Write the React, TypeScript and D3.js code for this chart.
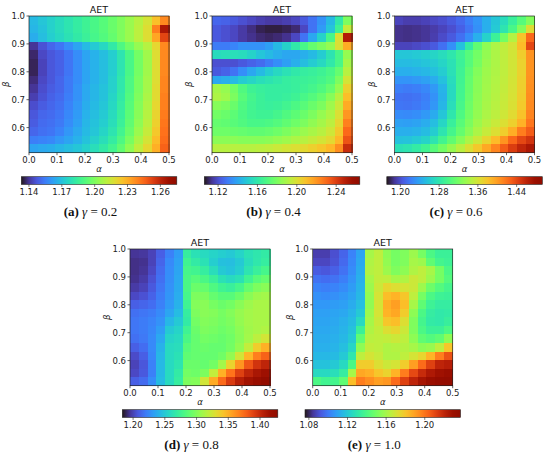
import * as React from "react";
import * as d3 from "d3";

// α and β ranges of every heatmap
const alphaDomain: [number, number] = [0, 0.5];
const betaDomain: [number, number] = [0.51, 1.0];
const alphaTicks = [0, 0.1, 0.2, 0.3, 0.4, 0.5];
const betaTicks = [0.6, 0.7, 0.8, 0.9, 1.0];

const letters = ["a", "b", "c", "d", "e"];
const gammas = ["0.2", "0.4", "0.6", "0.8", "1.0"];

// AET grids (16 x 16): rows from β = 1.0 (top) down to β = 0.51, columns α = 0 → 0.5
const aetA = [
  [1.168, 1.171, 1.174, 1.177, 1.180, 1.183, 1.186, 1.189, 1.192, 1.196, 1.200, 1.205, 1.210, 1.216, 1.226, 1.238],
  [1.167, 1.170, 1.174, 1.177, 1.180, 1.183, 1.186, 1.189, 1.192, 1.196, 1.200, 1.205, 1.211, 1.218, 1.240, 1.264],
  [1.165, 1.169, 1.173, 1.176, 1.179, 1.182, 1.185, 1.188, 1.191, 1.195, 1.200, 1.205, 1.211, 1.218, 1.232, 1.252],
  [1.140, 1.146, 1.150, 1.153, 1.158, 1.163, 1.168, 1.172, 1.176, 1.182, 1.190, 1.197, 1.204, 1.210, 1.220, 1.238],
  [1.137, 1.144, 1.147, 1.149, 1.153, 1.158, 1.163, 1.166, 1.169, 1.173, 1.180, 1.189, 1.198, 1.206, 1.218, 1.238],
  [1.136, 1.143, 1.147, 1.149, 1.153, 1.158, 1.163, 1.166, 1.169, 1.173, 1.180, 1.189, 1.198, 1.206, 1.218, 1.238],
  [1.136, 1.143, 1.147, 1.149, 1.153, 1.158, 1.163, 1.166, 1.169, 1.173, 1.180, 1.189, 1.198, 1.206, 1.218, 1.238],
  [1.138, 1.144, 1.147, 1.150, 1.154, 1.158, 1.163, 1.166, 1.169, 1.174, 1.181, 1.190, 1.199, 1.207, 1.218, 1.239],
  [1.140, 1.145, 1.148, 1.150, 1.154, 1.159, 1.164, 1.167, 1.170, 1.174, 1.181, 1.190, 1.199, 1.207, 1.219, 1.239],
  [1.142, 1.146, 1.149, 1.151, 1.155, 1.159, 1.164, 1.167, 1.170, 1.175, 1.182, 1.191, 1.200, 1.208, 1.219, 1.240],
  [1.145, 1.148, 1.150, 1.152, 1.156, 1.160, 1.165, 1.168, 1.171, 1.176, 1.183, 1.192, 1.201, 1.209, 1.220, 1.240],
  [1.147, 1.150, 1.151, 1.153, 1.157, 1.161, 1.166, 1.169, 1.172, 1.177, 1.184, 1.193, 1.202, 1.210, 1.221, 1.241],
  [1.148, 1.151, 1.152, 1.154, 1.158, 1.162, 1.167, 1.170, 1.173, 1.178, 1.185, 1.194, 1.203, 1.211, 1.222, 1.242],
  [1.150, 1.152, 1.153, 1.156, 1.160, 1.164, 1.168, 1.171, 1.175, 1.180, 1.187, 1.196, 1.205, 1.213, 1.224, 1.243],
  [1.155, 1.156, 1.157, 1.160, 1.163, 1.166, 1.170, 1.174, 1.178, 1.183, 1.190, 1.199, 1.208, 1.216, 1.227, 1.244],
  [1.163, 1.164, 1.165, 1.167, 1.169, 1.171, 1.174, 1.178, 1.182, 1.187, 1.194, 1.203, 1.212, 1.220, 1.230, 1.246],
];

const aetB = [
  [1.125, 1.124, 1.122, 1.120, 1.118, 1.116, 1.115, 1.115, 1.116, 1.118, 1.122, 1.128, 1.135, 1.145, 1.160, 1.180],
  [1.122, 1.120, 1.118, 1.115, 1.112, 1.109, 1.108, 1.108, 1.109, 1.111, 1.118, 1.128, 1.137, 1.148, 1.165, 1.195],
  [1.122, 1.120, 1.118, 1.115, 1.113, 1.111, 1.110, 1.111, 1.113, 1.118, 1.128, 1.140, 1.152, 1.168, 1.200, 1.250],
  [1.130, 1.130, 1.132, 1.135, 1.135, 1.135, 1.138, 1.145, 1.152, 1.160, 1.168, 1.175, 1.180, 1.185, 1.200, 1.215],
  [1.155, 1.156, 1.156, 1.155, 1.152, 1.148, 1.145, 1.142, 1.140, 1.140, 1.142, 1.145, 1.150, 1.158, 1.168, 1.185],
  [1.120, 1.120, 1.120, 1.122, 1.124, 1.126, 1.130, 1.134, 1.138, 1.142, 1.146, 1.150, 1.154, 1.160, 1.168, 1.188],
  [1.122, 1.124, 1.128, 1.134, 1.140, 1.145, 1.150, 1.154, 1.157, 1.160, 1.162, 1.163, 1.165, 1.168, 1.175, 1.192],
  [1.140, 1.142, 1.145, 1.150, 1.153, 1.156, 1.158, 1.160, 1.162, 1.163, 1.164, 1.165, 1.167, 1.170, 1.180, 1.198],
  [1.188, 1.185, 1.178, 1.170, 1.165, 1.163, 1.162, 1.162, 1.162, 1.163, 1.165, 1.167, 1.170, 1.175, 1.185, 1.205],
  [1.190, 1.187, 1.180, 1.172, 1.167, 1.164, 1.162, 1.162, 1.163, 1.165, 1.168, 1.171, 1.175, 1.182, 1.192, 1.210],
  [1.182, 1.180, 1.176, 1.170, 1.166, 1.164, 1.163, 1.164, 1.166, 1.169, 1.172, 1.176, 1.180, 1.187, 1.196, 1.215],
  [1.178, 1.176, 1.173, 1.169, 1.166, 1.165, 1.165, 1.167, 1.170, 1.173, 1.176, 1.180, 1.185, 1.190, 1.200, 1.220],
  [1.175, 1.174, 1.172, 1.170, 1.168, 1.168, 1.169, 1.171, 1.174, 1.177, 1.180, 1.184, 1.188, 1.193, 1.203, 1.225],
  [1.177, 1.177, 1.176, 1.175, 1.174, 1.174, 1.175, 1.177, 1.180, 1.183, 1.186, 1.189, 1.192, 1.197, 1.207, 1.230],
  [1.183, 1.183, 1.183, 1.182, 1.182, 1.182, 1.183, 1.185, 1.187, 1.190, 1.192, 1.195, 1.198, 1.202, 1.212, 1.235],
  [1.192, 1.192, 1.192, 1.192, 1.192, 1.193, 1.194, 1.196, 1.198, 1.200, 1.202, 1.205, 1.208, 1.212, 1.222, 1.245],
];

const aetC = [
  [1.195, 1.192, 1.192, 1.194, 1.197, 1.200, 1.205, 1.212, 1.222, 1.232, 1.245, 1.258, 1.272, 1.288, 1.305, 1.325],
  [1.186, 1.185, 1.186, 1.188, 1.191, 1.195, 1.200, 1.208, 1.218, 1.230, 1.245, 1.260, 1.278, 1.298, 1.325, 1.365],
  [1.186, 1.185, 1.186, 1.188, 1.192, 1.198, 1.205, 1.215, 1.228, 1.245, 1.265, 1.290, 1.318, 1.345, 1.380, 1.425],
  [1.195, 1.195, 1.197, 1.200, 1.205, 1.215, 1.230, 1.255, 1.285, 1.310, 1.330, 1.342, 1.350, 1.360, 1.385, 1.440],
  [1.258, 1.258, 1.260, 1.263, 1.267, 1.272, 1.280, 1.292, 1.305, 1.318, 1.332, 1.342, 1.350, 1.358, 1.375, 1.405],
  [1.252, 1.252, 1.254, 1.257, 1.261, 1.267, 1.276, 1.290, 1.305, 1.320, 1.334, 1.342, 1.350, 1.358, 1.372, 1.405],
  [1.245, 1.245, 1.247, 1.250, 1.255, 1.262, 1.275, 1.292, 1.310, 1.325, 1.336, 1.343, 1.350, 1.358, 1.372, 1.405],
  [1.232, 1.232, 1.234, 1.238, 1.244, 1.255, 1.272, 1.293, 1.312, 1.327, 1.337, 1.344, 1.351, 1.359, 1.373, 1.406],
  [1.222, 1.220, 1.222, 1.226, 1.234, 1.248, 1.270, 1.294, 1.313, 1.328, 1.338, 1.345, 1.352, 1.360, 1.374, 1.407],
  [1.216, 1.215, 1.217, 1.222, 1.231, 1.246, 1.270, 1.295, 1.314, 1.329, 1.339, 1.346, 1.353, 1.361, 1.375, 1.408],
  [1.218, 1.217, 1.219, 1.224, 1.233, 1.249, 1.273, 1.297, 1.316, 1.330, 1.340, 1.347, 1.354, 1.362, 1.377, 1.409],
  [1.228, 1.227, 1.229, 1.234, 1.243, 1.258, 1.280, 1.301, 1.318, 1.332, 1.342, 1.349, 1.357, 1.366, 1.381, 1.412],
  [1.238, 1.237, 1.239, 1.244, 1.253, 1.268, 1.288, 1.306, 1.322, 1.336, 1.346, 1.354, 1.363, 1.373, 1.390, 1.418],
  [1.245, 1.245, 1.247, 1.252, 1.262, 1.278, 1.296, 1.312, 1.328, 1.342, 1.353, 1.363, 1.375, 1.392, 1.415, 1.430],
  [1.255, 1.256, 1.260, 1.266, 1.278, 1.294, 1.310, 1.326, 1.342, 1.356, 1.370, 1.385, 1.405, 1.425, 1.440, 1.450],
  [1.275, 1.278, 1.284, 1.293, 1.305, 1.318, 1.333, 1.348, 1.363, 1.378, 1.395, 1.412, 1.430, 1.445, 1.458, 1.468],
];

const aetD = [
  [1.195, 1.196, 1.200, 1.210, 1.222, 1.232, 1.270, 1.262, 1.258, 1.255, 1.252, 1.250, 1.255, 1.262, 1.265, 1.268],
  [1.193, 1.194, 1.200, 1.212, 1.225, 1.234, 1.275, 1.268, 1.262, 1.252, 1.246, 1.245, 1.250, 1.260, 1.266, 1.270],
  [1.193, 1.195, 1.202, 1.214, 1.226, 1.235, 1.278, 1.276, 1.270, 1.260, 1.250, 1.247, 1.252, 1.264, 1.272, 1.278],
  [1.194, 1.197, 1.205, 1.216, 1.227, 1.236, 1.280, 1.285, 1.280, 1.272, 1.262, 1.258, 1.262, 1.275, 1.285, 1.290],
  [1.197, 1.200, 1.208, 1.218, 1.228, 1.237, 1.280, 1.292, 1.290, 1.282, 1.275, 1.272, 1.278, 1.290, 1.298, 1.302],
  [1.202, 1.205, 1.211, 1.220, 1.229, 1.238, 1.278, 1.298, 1.298, 1.290, 1.285, 1.285, 1.292, 1.302, 1.308, 1.310],
  [1.210, 1.212, 1.215, 1.222, 1.231, 1.240, 1.275, 1.300, 1.302, 1.296, 1.292, 1.295, 1.302, 1.308, 1.312, 1.312],
  [1.216, 1.218, 1.220, 1.225, 1.235, 1.244, 1.270, 1.298, 1.302, 1.300, 1.296, 1.300, 1.306, 1.310, 1.312, 1.312],
  [1.218, 1.220, 1.223, 1.228, 1.242, 1.250, 1.268, 1.295, 1.300, 1.298, 1.295, 1.298, 1.305, 1.310, 1.312, 1.312],
  [1.218, 1.220, 1.224, 1.232, 1.250, 1.255, 1.275, 1.292, 1.298, 1.296, 1.293, 1.296, 1.303, 1.309, 1.312, 1.314],
  [1.216, 1.219, 1.225, 1.236, 1.255, 1.258, 1.280, 1.290, 1.295, 1.293, 1.291, 1.294, 1.302, 1.310, 1.318, 1.325],
  [1.210, 1.215, 1.225, 1.240, 1.258, 1.260, 1.285, 1.290, 1.292, 1.290, 1.290, 1.295, 1.305, 1.320, 1.338, 1.350],
  [1.203, 1.210, 1.224, 1.242, 1.258, 1.262, 1.288, 1.290, 1.290, 1.290, 1.294, 1.305, 1.325, 1.348, 1.368, 1.378],
  [1.200, 1.207, 1.222, 1.243, 1.258, 1.264, 1.292, 1.292, 1.290, 1.295, 1.310, 1.335, 1.360, 1.382, 1.395, 1.402],
  [1.202, 1.208, 1.222, 1.243, 1.258, 1.268, 1.295, 1.293, 1.298, 1.320, 1.350, 1.372, 1.390, 1.402, 1.410, 1.415],
  [1.210, 1.214, 1.226, 1.244, 1.258, 1.270, 1.298, 1.300, 1.325, 1.352, 1.375, 1.392, 1.405, 1.413, 1.418, 1.422],
];

const aetE = [
  [1.086, 1.086, 1.090, 1.095, 1.102, 1.110, 1.160, 1.165, 1.155, 1.150, 1.152, 1.158, 1.150, 1.140, 1.135, 1.135],
  [1.088, 1.088, 1.091, 1.096, 1.103, 1.111, 1.162, 1.165, 1.156, 1.150, 1.152, 1.160, 1.158, 1.145, 1.138, 1.136],
  [1.093, 1.092, 1.094, 1.098, 1.104, 1.112, 1.163, 1.165, 1.158, 1.152, 1.155, 1.162, 1.165, 1.160, 1.150, 1.140],
  [1.098, 1.097, 1.098, 1.101, 1.106, 1.113, 1.160, 1.166, 1.165, 1.160, 1.162, 1.168, 1.165, 1.158, 1.150, 1.142],
  [1.102, 1.101, 1.102, 1.104, 1.108, 1.114, 1.158, 1.168, 1.175, 1.172, 1.170, 1.168, 1.158, 1.148, 1.142, 1.138],
  [1.105, 1.104, 1.105, 1.107, 1.110, 1.115, 1.156, 1.170, 1.182, 1.185, 1.180, 1.165, 1.150, 1.140, 1.136, 1.135],
  [1.107, 1.107, 1.108, 1.109, 1.112, 1.117, 1.156, 1.170, 1.186, 1.190, 1.182, 1.160, 1.145, 1.136, 1.133, 1.133],
  [1.109, 1.109, 1.110, 1.111, 1.114, 1.120, 1.158, 1.170, 1.185, 1.188, 1.178, 1.155, 1.140, 1.133, 1.131, 1.132],
  [1.110, 1.110, 1.111, 1.113, 1.116, 1.125, 1.160, 1.168, 1.180, 1.182, 1.172, 1.152, 1.138, 1.132, 1.131, 1.134],
  [1.111, 1.111, 1.112, 1.114, 1.118, 1.135, 1.162, 1.166, 1.172, 1.175, 1.168, 1.152, 1.140, 1.135, 1.135, 1.140],
  [1.112, 1.112, 1.113, 1.115, 1.120, 1.145, 1.164, 1.165, 1.166, 1.168, 1.165, 1.155, 1.145, 1.142, 1.145, 1.155],
  [1.113, 1.113, 1.114, 1.117, 1.124, 1.155, 1.166, 1.165, 1.162, 1.163, 1.163, 1.160, 1.155, 1.157, 1.165, 1.180],
  [1.115, 1.115, 1.116, 1.120, 1.130, 1.165, 1.170, 1.167, 1.162, 1.162, 1.165, 1.170, 1.175, 1.185, 1.198, 1.208],
  [1.118, 1.118, 1.120, 1.125, 1.140, 1.178, 1.178, 1.172, 1.168, 1.170, 1.178, 1.190, 1.202, 1.212, 1.220, 1.222],
  [1.125, 1.125, 1.127, 1.133, 1.160, 1.188, 1.186, 1.180, 1.176, 1.185, 1.198, 1.210, 1.218, 1.224, 1.228, 1.230],
  [1.140, 1.137, 1.138, 1.145, 1.182, 1.198, 1.194, 1.190, 1.192, 1.202, 1.212, 1.220, 1.226, 1.230, 1.232, 1.233],
];

const grids = [aetA, aetB, aetC, aetD, aetE];

// colour limits and colourbar ticks per panel
const colorLimits: [number, number][] = [
  [1.133, 1.275],
  [1.106, 1.264],
  [1.172, 1.493],
  [1.183, 1.428],
  [1.076, 1.237],
];
const cbarTicks = [
  [1.14, 1.17, 1.2, 1.23, 1.26],
  [1.12, 1.16, 1.2, 1.24],
  [1.2, 1.28, 1.36, 1.44],
  [1.2, 1.25, 1.3, 1.35, 1.4],
  [1.08, 1.12, 1.16, 1.2],
];

// top-left corner of each heatmap
const origins: [number, number][] = [
  [29, 16],
  [212, 16],
  [394.5, 16],
  [130, 249],
  [312.7, 249],
];

const W = 140;
const H = 136.7;
const font = "DejaVu Sans, sans-serif";
const stops = d3.range(0, 1.0001, 0.05);

const Panel: React.FC<{ idx: number }> = ({ idx }) => {
  const [x0, y0] = origins[idx];
  const grid = grids[idx];
  const nRows = grid.length;
  const nCols = grid[0].length;

  const x = d3.scaleLinear().domain(alphaDomain).range([x0, x0 + W]);
  const y = d3.scaleLinear().domain(betaDomain).range([y0 + H, y0]);
  const color = d3.scaleSequential(d3.interpolateTurbo).domain(colorLimits[idx]);

  const aStep = (alphaDomain[1] - alphaDomain[0]) / nCols;
  const bStep = (betaDomain[1] - betaDomain[0]) / nRows;

  const cbX = x0 - 7.7;
  const cbY = y0 + 160.7;
  const cbW = 155.5;
  const cbH = 7.7;
  const cb = d3.scaleLinear().domain(colorLimits[idx]).range([cbX, cbX + cbW]);
  const gradId = `turbo-${idx}`;

  const cx = x0 + W / 2;

  return (
    <g>
      <defs>
        <linearGradient id={gradId} x1="0" x2="1" y1="0" y2="0">
          {stops.map((s) => (
            <stop key={s} offset={s} stopColor={d3.interpolateTurbo(s)} />
          ))}
        </linearGradient>
      </defs>

      {/* heatmap cells */}
      <g shapeRendering="crispEdges">
        {grid.map((row, r) =>
          row.map((v, c) => {
            const a0 = alphaDomain[0] + c * aStep;
            const b1 = betaDomain[1] - r * bStep;
            return (
              <rect
                key={`${r}-${c}`}
                x={x(a0)}
                y={y(b1)}
                width={x(a0 + aStep) - x(a0) + 0.5}
                height={y(b1 - bStep) - y(b1) + 0.5}
                fill={color(v)}
              />
            );
          })
        )}
      </g>
      <rect x={x0} y={y0} width={W} height={H} fill="none" stroke="#222" strokeWidth={0.7} />

      <text x={cx} y={y0 - 3} textAnchor="middle" fontFamily={font} fontSize={9.5} fill="#111">
        AET
      </text>

      {/* α axis */}
      {alphaTicks.map((t) => (
        <g key={t}>
          <line x1={x(t)} x2={x(t)} y1={y0 + H} y2={y0 + H + 2.5} stroke="#222" strokeWidth={0.7} />
          <text x={x(t)} y={y0 + H + 10.5} textAnchor="middle" fontFamily={font} fontSize={8.5} fill="#222">
            {t.toFixed(1)}
          </text>
        </g>
      ))}
      <text x={cx} y={y0 + H + 19.5} textAnchor="middle" fontFamily={font} fontSize={8.5} fontStyle="italic" fill="#222">
        α
      </text>

      {/* β axis */}
      {betaTicks.map((t) => (
        <g key={t}>
          <line x1={x0 - 2.5} x2={x0} y1={y(t)} y2={y(t)} stroke="#222" strokeWidth={0.7} />
          <text x={x0 - 4} y={y(t) + 3} textAnchor="end" fontFamily={font} fontSize={8.5} fill="#222">
            {t.toFixed(1)}
          </text>
        </g>
      ))}
      <text
        transform={`translate(${x0 - 20},${y0 + H / 2}) rotate(-90)`}
        textAnchor="middle"
        fontFamily={font}
        fontSize={8.5}
        fontStyle="italic"
        fill="#222"
      >
        β
      </text>

      {/* colour bar */}
      <rect x={cbX} y={cbY} width={cbW} height={cbH} fill={`url(#${gradId})`} stroke="#222" strokeWidth={0.6} />
      {cbarTicks[idx].map((t) => (
        <g key={t}>
          <line x1={cb(t)} x2={cb(t)} y1={cbY + cbH} y2={cbY + cbH + 2.5} stroke="#222" strokeWidth={0.6} />
          <text x={cb(t)} y={cbY + cbH + 10.5} textAnchor="middle" fontFamily={font} fontSize={8.5} fill="#222">
            {t.toFixed(2)}
          </text>
        </g>
      ))}

      {/* caption */}
      <text x={cx - 8.5} y={y0 + 199.5} textAnchor="middle" fontFamily="Liberation Serif, serif" fontSize={13} fill="#111">
        <tspan fontWeight="bold">({letters[idx]})</tspan>
        <tspan> </tspan>
        <tspan fontStyle="italic">γ</tspan>
        <tspan> = {gammas[idx]}</tspan>
      </text>
    </g>
  );
};

export default function App() {
  return (
    <svg
      width={550}
      height={457}
      style={{ position: "absolute", left: 0, top: 0, background: "#fff" }}
    >
      {letters.map((_, i) => (
        <Panel key={i} idx={i} />
      ))}
    </svg>
  );
}
